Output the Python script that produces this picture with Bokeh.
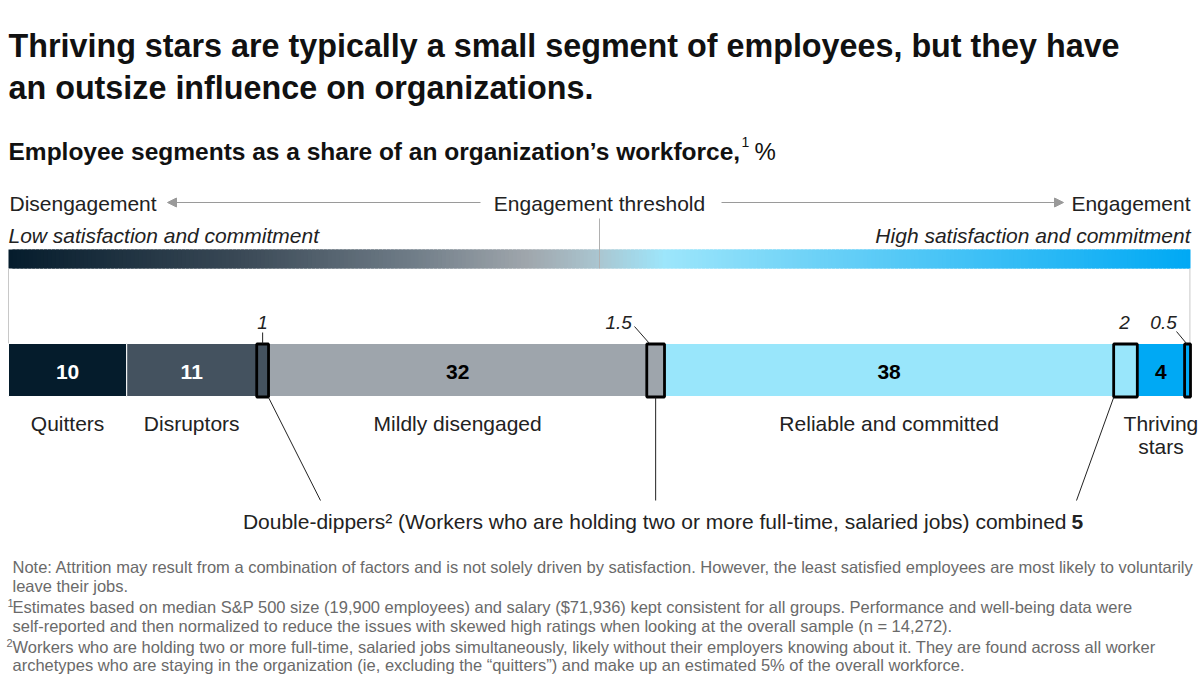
from bokeh.plotting import figure
from bokeh.models import Range1d, Arrow, NormalHead, ColumnDataSource
from bokeh.core.properties import value
from bokeh.embed import file_html
from bokeh.resources import INLINE

# ---------------- data ----------------
segments = ["Quitters", "Disruptors", "Double-dippers (disruptors)", "Mildly disengaged",
            "Double-dippers (mildly disengaged)", "Reliable and committed",
            "Double-dippers (reliable and committed)", "Thriving stars",
            "Double-dippers (thriving stars)"]
shares = [10, 11, 1, 32, 1.5, 38, 2, 4, 0.5]
is_double_dipper = [False, False, True, False, True, False, True, False, True]
inner_labels = ["10", "11", "", "32", "", "38", "", "4", ""]
box_labels = ["", "", "1", "", "1.5", "", "2", "", "0.5"]
name_labels = ["Quitters", "Disruptors", "", "Mildly disengaged", "", "Reliable and committed", "", "Thriving\nstars", ""]
double_dippers_total = 5

title_lines = ["Thriving stars are typically a small segment of employees, but they have",
               "an outsize influence on organizations."]
subtitle = "Employee segments as a share of an organization\u2019s workforce,"
notes = [
    "Note: Attrition may result from a combination of factors and is not solely driven by satisfaction. However, the least satisfied employees are most likely to voluntarily",
    "leave their jobs.",
    "Estimates based on median S&P 500 size (19,900 employees) and salary ($71,936) kept consistent for all groups. Performance and well-being data were",
    "self-reported and then normalized to reduce the issues with skewed high ratings when looking at the overall sample (n = 14,272).",
    "Workers who are holding two or more full-time, salaried jobs simultaneously, likely without their employers knowing about it. They are found across all worker",
    "archetypes who are staying in the organization (ie, excluding the \u201cquitters\u201d) and make up an estimated 5% of the overall workforce.",
]

# ---------------- styles ----------------
FONT = value("Liberation Sans")
seg_colors = ["#051c2c", "#44525f", "#44525f", "#9ea5ac", "#9ea5ac", "#99e6fb", "#99e6fb", "#00a9f4", "#00a9f4"]
inner_text_colors = ["white", "white", "black", "black", "black", "black", "black", "black", "black"]
TXT = "#222222"

W, H = 1200, 694
SCALE = 11.82  # px per percentage point

def X(page_px):
    return (page_px - 8) / SCALE

p = figure(width=W, height=H, x_range=Range1d(X(0), X(W)), y_range=Range1d(H, 0),
           output_backend="svg", toolbar_location=None, x_axis_type=None, y_axis_type=None,
           min_border=0)
p.xgrid.visible = False
p.ygrid.visible = False
p.outline_line_color = None

def txt(x, y, s, size="21px", style="normal", color=TXT, align="left", baseline="middle", x_off=0):
    p.text(x=[x], y=[y], text=[s], text_font=FONT, text_font_size=size, text_font_style=style,
           text_color=color, text_align=align, text_baseline=baseline, x_offset=x_off)

# titles
txt(X(8), 45, title_lines[0], size="32.3px", style="bold", color="#111111", baseline="alphabetic")
txt(X(8), 87, title_lines[1], size="32.3px", style="bold", color="#111111", baseline="alphabetic")
txt(X(8), 151, subtitle, size="24.5px", style="bold", color="#111111", baseline="alphabetic")
txt(X(741), 141, "1", size="14px", color="#111111", baseline="alphabetic")
txt(X(754), 151, "%", size="24px", color="#111111", baseline="alphabetic")

# scale header
txt(X(9), 203, "Disengagement")
txt(X(599), 203, "Engagement threshold", align="center")
txt(X(1190), 203, "Engagement", align="right")
p.add_layout(Arrow(end=NormalHead(size=9, fill_color="#9a9a9a", line_color="#9a9a9a"),
                   x_start=X(480), y_start=202, x_end=X(167), y_end=202,
                   line_color="#9a9a9a", line_width=1))
p.add_layout(Arrow(end=NormalHead(size=9, fill_color="#9a9a9a", line_color="#9a9a9a"),
                   x_start=X(721), y_start=202, x_end=X(1063), y_end=202,
                   line_color="#9a9a9a", line_width=1))
txt(X(8), 235, "Low satisfaction and commitment", style="italic")
txt(X(1190), 235, "High satisfaction and commitment", style="italic", align="right")

# gradient bar
stops = [(0.0, "#051c2c"), (0.2, "#3b4a57"), (0.34, "#6f7c87"), (0.44, "#a0a7ad"),
         (0.5, "#aac6d1"), (0.555, "#9de6fb"), (0.68, "#6ed2f7"), (1.0, "#00a9f4")]

def hex2rgb(h):
    return tuple(int(h[i:i + 2], 16) for i in (1, 3, 5))

def interp(t):
    for (t0, c0), (t1, c1) in zip(stops[:-1], stops[1:]):
        if t0 <= t <= t1:
            f = (t - t0) / (t1 - t0)
            a, b = hex2rgb(c0), hex2rgb(c1)
            return "#%02x%02x%02x" % tuple(round(a[i] + (b[i] - a[i]) * f) for i in range(3))
    return stops[-1][1]

total = sum(shares)
N = 300
step = total / N
gl = [step * i for i in range(N)]
gr = [min(total, step * (i + 1) + step * 0.8) for i in range(N)]
gc = [interp((i + 0.5) / N) for i in range(N)]
p.quad(left=gl, right=gr, top=[249] * N, bottom=[268] * N, fill_color=gc, line_color=None)
p.segment(x0=[total / 2], y0=[218], x1=[total / 2], y1=[268], line_color="#b0b0b0", line_width=1)
# frame lines
p.segment(x0=[0, total - 0.05], y0=[268, 268], x1=[0, total - 0.05], y1=[343, 343],
          line_color="#c8c8c8", line_width=1)

# stacked bar
lefts, rights = [], []
acc = 0
for v in shares:
    lefts.append(acc)
    acc += v
    rights.append(acc)
centers = [(l + r) / 2 for l, r in zip(lefts, rights)]

BAR_T, BAR_B = 343, 396
main_idx = [i for i, d in enumerate(is_double_dipper) if not d]
box_idx = [i for i, d in enumerate(is_double_dipper) if d]
p.quad(left=[lefts[i] for i in main_idx], right=[rights[i] for i in main_idx],
       top=[BAR_T] * len(main_idx), bottom=[BAR_B] * len(main_idx),
       fill_color=[seg_colors[i] for i in main_idx], line_color="white", line_width=1)
p.quad(left=[lefts[i] for i in box_idx], right=[rights[i] for i in box_idx],
       top=[BAR_T + 0.5] * len(box_idx), bottom=[BAR_B + 0.5] * len(box_idx),
       fill_color=[seg_colors[i] for i in box_idx], line_color="black", line_width=2.8)

# inner value labels
src = ColumnDataSource(dict(x=[centers[i] for i in main_idx], y=[371] * len(main_idx),
                            t=[inner_labels[i] for i in main_idx],
                            c=[inner_text_colors[i] for i in main_idx]))
p.text(x="x", y="y", text="t", text_color="c", source=src, text_font=FONT, text_font_size="21px",
       text_font_style="bold", text_align="center", text_baseline="middle")

# segment names
for i in main_idx:
    lines = name_labels[i].split("\n")
    for k, ln in enumerate(lines):
        txt(centers[i], 423 + 23 * k, ln, align="center")

# double-dipper labels above boxes
offsets = {2: 0, 4: -37, 6: -1, 8: -24}
for i in box_idx:
    txt(centers[i], 322, box_labels[i], size="19px", style="italic", align="center", x_off=offsets[i])
# short leaders above
p.segment(x0=[centers[2], X(634), X(1176)], y0=[332, 326, 331],
          x1=[centers[2], X(649), X(1186)], y1=[343, 343, 343], line_color="#222222", line_width=1)
# leaders below to annotation
p.segment(x0=[rights[2], centers[4], lefts[6]], y0=[397, 397, 397],
          x1=[X(320), centers[4], X(1076)], y1=[500, 500, 500], line_color="#222222", line_width=1)
txt(X(1066), 521, "Double-dippers\u00b2 (Workers who are holding two or more full-time, salaried jobs) combined",
    align="right")
txt(X(1071), 521, str(double_dippers_total), style="bold")

# notes
NOTE_C = "#6a6a6a"
NS = "16.5px"
note_y = [566, 585, 606, 625, 646, 664]
txt(X(12), note_y[0], notes[0], size=NS, color=NOTE_C)
txt(X(12), note_y[1], notes[1], size=NS, color=NOTE_C)
txt(X(7), note_y[2] - 4, "1", size="11px", color=NOTE_C)
txt(X(12), note_y[2], notes[2], size=NS, color=NOTE_C)
txt(X(12), note_y[3], notes[3], size=NS, color=NOTE_C)
txt(X(6), note_y[4] - 4, "2", size="11px", color=NOTE_C)
txt(X(12), note_y[4], notes[4], size=NS, color=NOTE_C)
txt(X(12), note_y[5], notes[5], size=NS, color=NOTE_C)

open("out.html", "w").write(file_html(p, INLINE))
